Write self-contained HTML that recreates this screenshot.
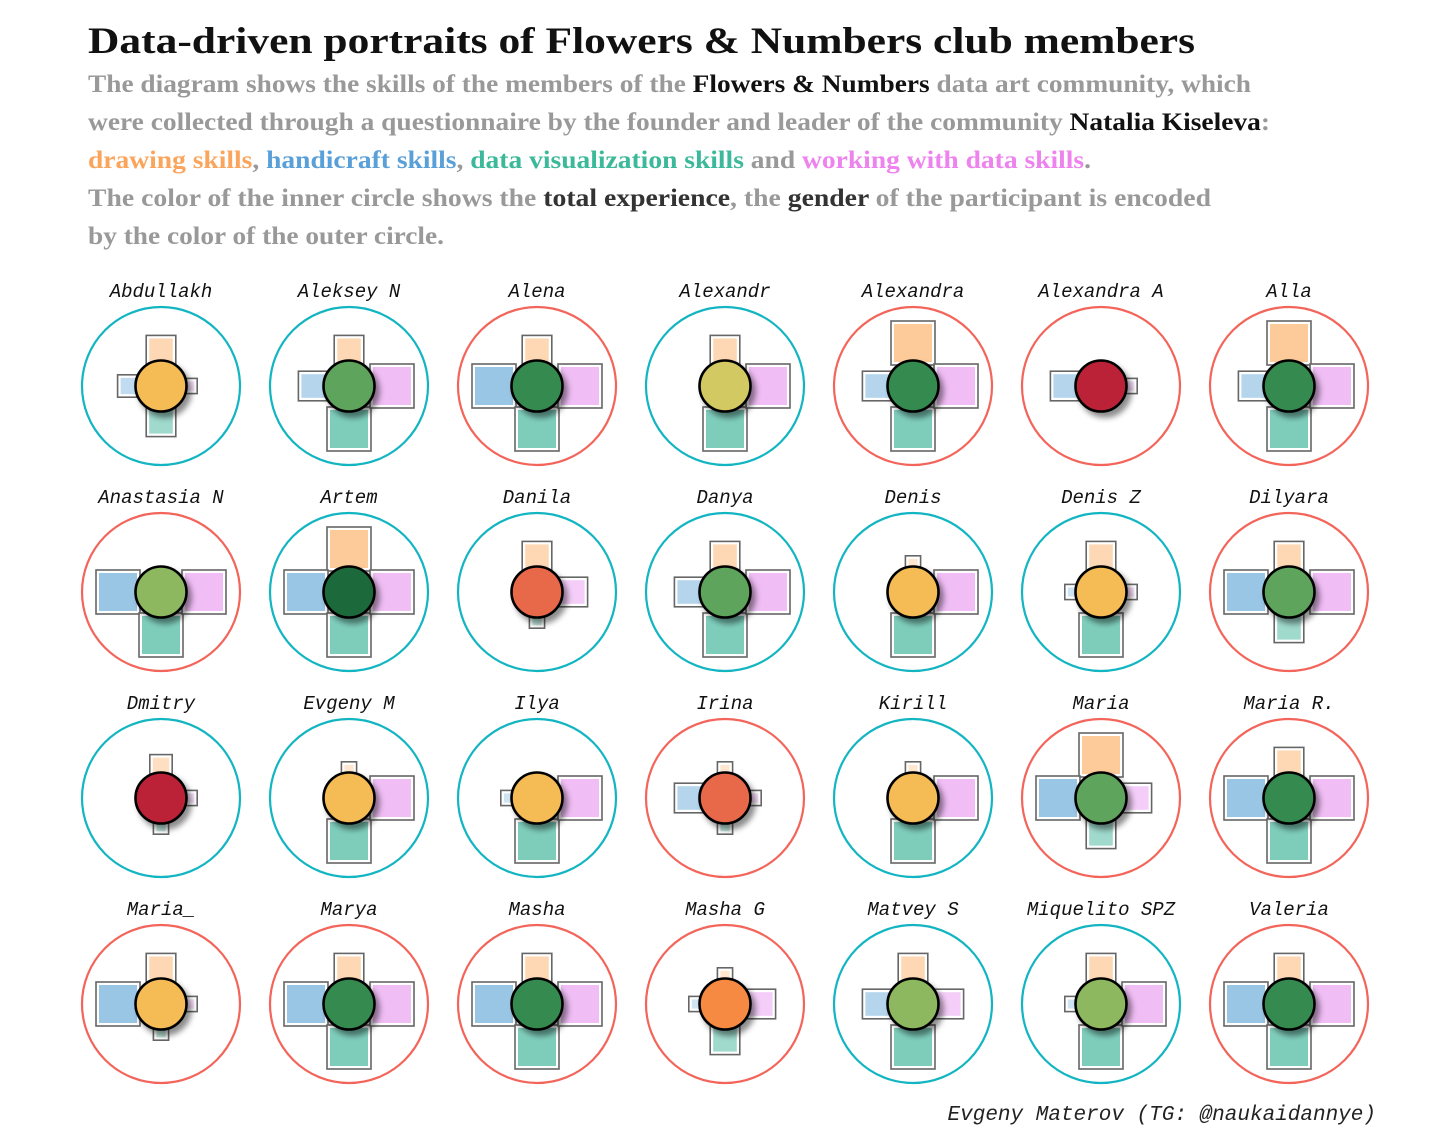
<!DOCTYPE html>
<html><head><meta charset="utf-8">
<style>
html,body{margin:0;padding:0;background:#fff;}
svg{display:block;}
</style></head>
<body>
<svg id="chart" width="1456" height="1145" viewBox="0 0 1456 1145" xmlns="http://www.w3.org/2000/svg">
<defs>
<filter id="sh" x="-50%" y="-50%" width="200%" height="200%">
<feDropShadow dx="4" dy="5" stdDeviation="3" flood-color="#000" flood-opacity="0.45"/>
</filter>
</defs>
<g font-family="'Liberation Serif', serif" font-weight="bold">
<text x="88" y="53" font-size="37" fill="#111" textLength="1107" lengthAdjust="spacingAndGlyphs">Data-driven portraits of Flowers &amp; Numbers club members</text>
<text x="88" y="92" font-size="25" fill="#999" textLength="1163" lengthAdjust="spacingAndGlyphs">The diagram shows the skills of the members of the <tspan fill="#111">Flowers &amp; Numbers</tspan> data art community, which</text>
<text x="88" y="130" font-size="25" fill="#999" textLength="1182" lengthAdjust="spacingAndGlyphs">were collected through a questionnaire by the founder and leader of the community <tspan fill="#111">Natalia Kiseleva</tspan>:</text>
<text x="88" y="168" font-size="25" fill="#999" textLength="1003" lengthAdjust="spacingAndGlyphs"><tspan fill="#fba55c">drawing skills</tspan>, <tspan fill="#5aa0d8">handicraft skills</tspan>, <tspan fill="#3cb89a">data visualization skills</tspan> and <tspan fill="#ee82ee">working with data skills</tspan>.</text>
<text x="88" y="206" font-size="25" fill="#999" textLength="1123" lengthAdjust="spacingAndGlyphs">The color of the inner circle shows the <tspan fill="#333">total experience</tspan>, the <tspan fill="#333">gender</tspan> of the participant is encoded</text>
<text x="88" y="244" font-size="25" fill="#999" textLength="356" lengthAdjust="spacingAndGlyphs">by the color of the outer circle.</text>
</g>
<g id="grid"></g>
<text x="1376" y="1120" text-anchor="end" font-family="'Liberation Mono', monospace" font-style="italic" font-size="21" fill="#222">Evgeny Materov (TG: @naukaidannye)</text>
</svg>
<script>
const names = ["Abdullakh","Aleksey N","Alena","Alexandr","Alexandra","Alexandra A","Alla",
"Anastasia N","Artem","Danila","Danya","Denis","Denis Z","Dilyara",
"Dmitry","Evgeny M","Ilya","Irina","Kirill","Maria","Maria R.",
"Maria_","Marya","Masha","Masha G","Matvey S","Miquelito SPZ","Valeria"];
const drawing =    [3,3,3,3,5,0,5, 0,5,3,3,1,3,3, 2,1,0,1,1,5,3, 3,3,3,1,3,3,3];
const handicraft = [2,3,5,0,3,3,3, 5,5,0,3,0,1,5, 0,0,1,3,0,5,5, 5,5,5,1,3,1,5];
const dataviz =    [3,5,5,5,5,0,5, 5,5,1,5,5,5,3, 1,5,5,1,5,3,5, 1,5,5,3,5,5,5];
const datawork =   [1,5,5,5,5,1,5, 5,5,3,5,5,1,5, 1,5,5,1,5,3,5, 1,5,5,3,3,5,5];
const experience = [4,7,8,5,8,1,8, 6,9,2,7,4,4,7, 1,4,4,2,4,7,8, 4,8,8,3,6,6,8];
const gender =     ["m","m","f","m","f","f","f", "f","m","m","m","m","m","f", "m","m","m","f","m","f","f", "f","f","f","f","m","m","f"];

const expColors = {1:"#bb2338",2:"#e8694a",3:"#f78a42",4:"#f5bb55",5:"#d3c962",6:"#8db85e",7:"#5ea45c",8:"#368a50",9:"#1c6b3a"};
const genderColors = {m:"#12b5c1", f:"#f3655a"};
const armColors = ["#fdca9a","#9ac6e6","#7ecdbb","#f0bdf5"];

const NS = "http://www.w3.org/2000/svg";
const grid = document.getElementById("grid");
const colX = i => 161 + i*188;
const rowY = j => 386 + j*206;
const armSize = v => v ? 8 + v*7.2 : 0;
const GAP = 21;

function mk(tag, attrs, parent){
  const e = document.createElementNS(NS, tag);
  for (const k in attrs) e.setAttribute(k, attrs[k]);
  parent.appendChild(e);
  return e;
}

names.forEach((nm, i) => {
  const cx = colX(i % 7), cy = rowY(Math.floor(i / 7));
  const g = mk("g", {}, grid);
  
  

  const t = mk("text", {x:cx, y:cy-89, "text-anchor":"middle", "font-family":"'Liberation Mono', monospace", "font-style":"italic", "font-size":"19", fill:"#111"}, g);
  t.textContent = nm;
  
  

  const oc = mk("circle", {cx:cx, cy:cy, r:79, fill:"none", stroke:genderColors[gender[i]], "stroke-width":2.2}, g);
  
  

  const vals = [drawing[i], handicraft[i], dataviz[i], datawork[i]];
  const armNames = ["drawing-arm","handicraft-arm","dataviz-arm","datawork-arm"];
  vals.forEach((v, k) => {
    if (!v) return;
    const s = armSize(v);
    let x, y;
    if (k === 0){ x = cx - s/2; y = cy - GAP - s; }
    else if (k === 1){ x = cx - GAP - s; y = cy - s/2; }
    else if (k === 2){ x = cx - s/2; y = cy + GAP; }
    else { x = cx + GAP; y = cy - s/2; }
    const ag = mk("g", {}, g);
    
    
    mk("rect", {x:x, y:y, width:s, height:s, fill:"#fff", stroke:"#666", "stroke-width":1.6}, ag);
    const ins = Math.min(3, s/4);
    mk("rect", {x:x+ins, y:y+ins, width:s-2*ins, height:s-2*ins, fill:armColors[k], "fill-opacity":0.35+0.13*v}, ag);
  });

  const ic = mk("circle", {cx:cx, cy:cy, r:25.5, fill:expColors[experience[i]], stroke:"#000", "stroke-width":2.6, filter:"url(#sh)"}, g);
  
  
});
</script>
</body></html>
